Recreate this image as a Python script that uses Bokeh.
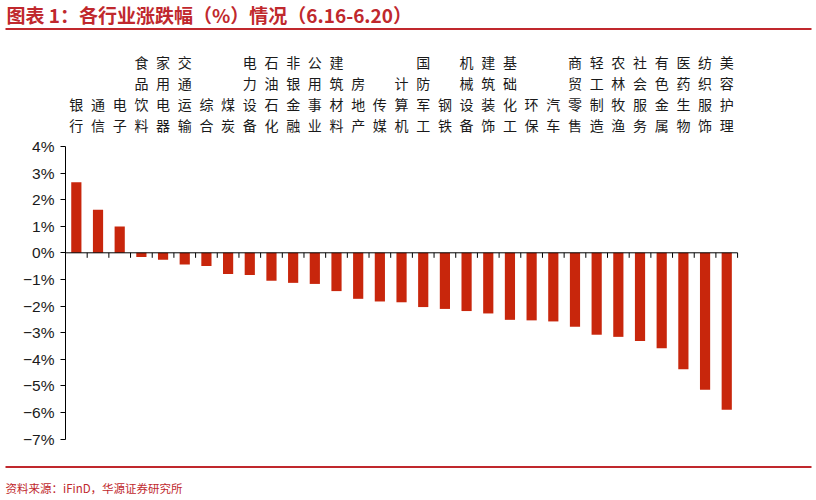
from bokeh.plotting import figure
from bokeh.models import Range1d, FixedTicker
from bokeh.core.properties import value
from bokeh.embed import file_html
from bokeh.resources import INLINE

# 申万一级行业 weekly change (%)
industries = ["银行", "通信", "电子", "食品饮料", "家用电器", "交通运输", "综合", "煤炭",
              "电力设备", "石油石化", "非银金融", "公用事业", "建筑材料", "房地产", "传媒",
              "计算机", "国防军工", "钢铁", "机械设备", "建筑装饰", "基础化工", "环保", "汽车",
              "商贸零售", "轻工制造", "农林牧渔", "社会服务", "有色金属", "医药生物",
              "纺织服饰", "美容护理"]
changes = [2.65, 1.62, 0.99, -0.16, -0.26, -0.44, -0.50, -0.80, -0.83, -1.05, -1.13,
           -1.17, -1.44, -1.73, -1.83, -1.86, -2.04, -2.11, -2.19, -2.28, -2.52, -2.54,
           -2.58, -2.78, -3.08, -3.16, -3.32, -3.59, -4.38, -5.15, -5.90]
y_ticks = [4, 3, 2, 1, 0, -1, -2, -3, -4, -5, -6, -7]
y_tick_labels = ["4%", "3%", "2%", "1%", "0%", "−1%", "−2%", "−3%", "−4%", "−5%", "−6%", "−7%"]

title_text = "图表 1：各行业涨跌幅（%）情况（6.16-6.20）"
source_text = "资料来源：iFinD，华源证券研究所"

RED = "#C0282D"
BAR = "#C8260C"

# page layout (pixels) -> data units
W, H = 816, 500
AXIS_X = 65          # y axis line
CAT_PX = 21.68       # pixels per industry
PCT_PX = 26.6        # pixels per 1%
ZERO_Y = 252.3       # pixel row of 0%


def xpix(px):
    return (px - AXIS_X) / CAT_PX


def ypix(py):
    return (ZERO_Y - py) / PCT_PX


p = figure(width=W, height=H, x_range=Range1d(xpix(0), xpix(W)),
           y_range=Range1d(ypix(H), ypix(0)),
           output_backend="svg", toolbar_location=None, x_axis_location=None,
           min_border=0, min_border_left=0, min_border_right=0,
           min_border_top=0, min_border_bottom=0)
p.outline_line_color = None
p.grid.visible = False

# y axis drawn inside the frame at x = 0
p.yaxis.fixed_location = 0
p.yaxis.bounds = (min(y_ticks), max(y_ticks))
p.yaxis.ticker = FixedTicker(ticks=y_ticks)
p.yaxis.major_label_overrides = {t: s for t, s in zip(y_ticks, y_tick_labels)}
p.yaxis.minor_tick_line_color = None
p.yaxis.major_tick_in = 0
p.yaxis.major_tick_out = 5
p.yaxis.major_label_standoff = 6
p.yaxis.axis_line_color = "black"
p.yaxis.major_tick_line_color = "black"
p.yaxis.major_label_text_font = "Liberation Sans"
p.yaxis.major_label_text_font_size = "15.5px"
p.yaxis.major_label_text_color = "#1a1a1a"

n = len(industries)
xs = [i + 0.5 for i in range(n)]

p.vbar(x=xs, top=changes, bottom=0, width=0.47, fill_color=BAR, line_color=None)

# zero line with downward ticks between industries
p.segment(x0=[0], y0=[0], x1=[n], y1=[0], line_color="black", line_width=1)
tick_len = 5 / PCT_PX
p.segment(x0=list(range(1, n + 1)), y0=[0] * n, x1=list(range(1, n + 1)),
          y1=[-tick_len] * n, line_color="black", line_width=1)

# vertical industry names above the bars
p.text(x=xs, y=[ypix(134)] * n, text=["\n".join(s) for s in industries],
       text_align="center", text_baseline="bottom", text_line_height=1.05,
       text_font=value("Noto Sans CJK SC"), text_font_size="14px", text_color="#1a1a1a")

# title and rule
p.text(x=[xpix(6)], y=[ypix(14)], text=[title_text], text_baseline="middle",
       text_font=value("Noto Sans CJK SC"), text_font_size="19px",
       text_font_style="bold", text_color=RED)
p.segment(x0=[xpix(5)], y0=[ypix(28.5)], x1=[xpix(811)], y1=[ypix(28.5)],
          line_color=RED, line_width=2)

# source rule and note
p.segment(x0=[xpix(5)], y0=[ypix(466.5)], x1=[xpix(811)], y1=[ypix(466.5)],
          line_color=RED, line_width=2)
p.text(x=[xpix(5)], y=[ypix(487)], text=[source_text], text_baseline="middle",
       text_font=value("Noto Sans CJK SC"), text_font_size="11.5px", text_color=RED)

open("out.html", "w").write(file_html(p, INLINE))
